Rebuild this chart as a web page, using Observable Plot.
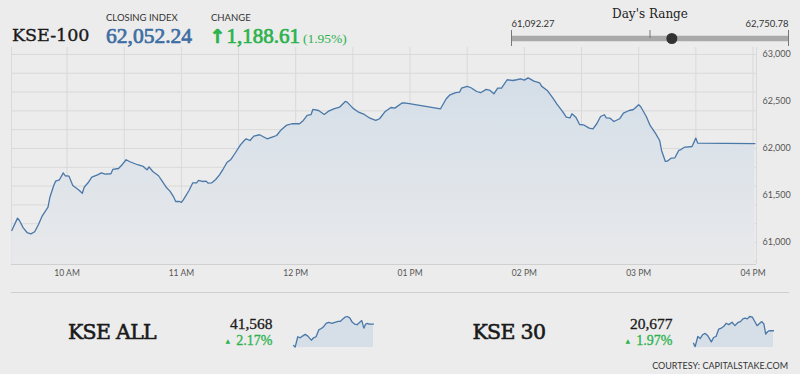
<!DOCTYPE html>
<html><head><meta charset="utf-8">
<script src="https://cdn.jsdelivr.net/npm/d3@7"></script>
<script src="https://cdn.jsdelivr.net/npm/@observablehq/plot@0.6"></script>
<style>
html,body{margin:0;padding:0;background:#ececec;}
#page{position:relative;width:800px;height:374px;overflow:hidden;background:#ececec;}
#page svg{position:absolute;left:0;top:0;}
</style></head><body>
<svg width="0" height="0" style="position:absolute">
  <defs>
    <linearGradient id="kseGrad" x1="0" y1="0" x2="0" y2="1">
      <stop offset="0" stop-color="#d4dee8"/>
      <stop offset="1" stop-color="#e8e9eb"/>
    </linearGradient>
  </defs>
</svg>
<div id="page"></div>
<script>
// ---- header values ----
const indexName = "KSE-100";
const closingIndex = 62052.24;
const change = 1188.61;
const changePct = 1.95;
const dayLow = 61092.27;
const dayHigh = 62750.78;

// ---- KSE-100 intraday series ----
const times = ["09:31","09:34","09:35","09:37","09:39","09:41","09:43","09:45","09:47","09:50","09:51","09:53","09:54","09:56","09:58","09:59",
"10:01","10:03","10:06","10:08","10:09","10:11","10:13","10:16","10:18","10:20","10:23","10:24","10:27","10:29","10:31","10:33","10:37","10:40","10:41","10:42","10:43","10:45","10:48","10:50","10:52","10:54","10:56","10:57","10:59",
"11:00","11:01","11:04","11:06","11:08","11:09","11:11","11:13","11:14","11:16","11:18","11:20","11:22","11:24","11:26","11:28","11:31","11:33","11:34","11:36","11:38","11:41","11:45","11:48","11:50","11:52","11:55","11:58",
"12:02","12:04","12:06","12:08","12:09","12:12","12:15","12:17","12:20","12:23","12:26","12:27","12:30","12:33","12:36","12:39","12:42","12:44","12:47","12:50","12:52","12:56","12:58",
"13:16","13:19","13:21","13:24","13:26","13:27","13:30","13:32","13:35","13:37","13:40","13:42","13:44","13:46","13:48","13:51","13:54","13:56","13:58",
"14:00","14:02","14:05","14:08","14:09","14:12","14:15","14:17","14:20","14:22","14:24","14:25","14:27","14:29","14:31","14:34","14:36","14:38","14:40","14:42","14:43","14:45","14:47","14:50","14:52","14:55","14:57","14:58",
"15:00","15:01","15:04","15:06","15:09","15:11","15:12","15:14","15:15","15:17","15:19","15:21","15:22","15:24","15:25","15:28","15:30","15:31","16:01"];
const values = [61128,61259,61234,61156,61106,61092,61114,61191,61284,61376,61482,61606,61652,61667,61741,61710,
61706,61606,61560,61524,61588,61635,61695,61720,61741,61727,61731,61777,61787,61830,61880,61859,61827,61809,61790,61773,61805,61755,61710,61649,61588,61546,61482,61436,61436,
61426,61454,61553,61635,61635,61660,61649,61652,61631,61635,61670,61720,61784,61854,61883,61944,62039,62085,62103,62085,62131,62146,62103,62124,62138,62191,62245,62263,
62263,62298,62351,62359,62415,62404,62362,62394,62422,62439,62500,62493,62429,62386,62362,62322,62298,62316,62394,62436,62429,62486,62482,
62422,62529,62571,62593,62599,62641,62660,62646,62606,62593,62628,62617,62582,62641,62641,62731,62723,62731,62741,
62727,62751,62716,62699,62663,62617,62535,62475,62394,62333,62326,62369,62333,62255,62252,62216,62209,62263,62340,62359,62326,62322,62287,62316,62376,62404,62412,62429,
62465,62447,62340,62245,62156,62085,61979,61862,61865,61897,61901,61979,61986,62014,62014,62021,62110,62056,62052];

// ---- sub-indices ----
const subNames = ["KSE ALL", "KSE 30"];
const subValues = [41568, 20677];
const subPct = [2.17, 1.97];
const sparkTimes = ["09:31","09:39","09:52","10:04","10:15","10:28","10:41","10:58","11:09","11:21","11:34","11:47","11:59","12:10","12:23","12:39","12:53","13:09","13:20","13:32","13:42","13:53","14:05","14:18","14:29","14:41","14:54","15:04","15:14","15:23","15:32","15:40","16:01"];
const kseAllSpark = [40824,40764,41124,41088,41148,41208,41148,41004,41088,41124,41364,41412,41484,41592,41628,41592,41628,41664,41664,41748,41808,41832,41784,41628,41568,41544,41628,41688,41424,41568,41592,41568,41568];
const kse30Spark = [20455,20395,20575,20539,20605,20629,20587,20479,20557,20575,20707,20725,20755,20809,20785,20827,20767,20827,20839,20887,20899,20887,20929,20917,20845,20767,20809,20839,20797,20617,20659,20677,20677];

// ---- axis ticks ----
const yTicks = [61000, 61500, 62000, 62500, 63000];
const yGrid = d3.range(60800, 63001, 200);
const xTickTimes = ["10:00","11:00","12:00","13:00","14:00","15:00","16:00"];
const xGridTimes = ["10:00","10:30","11:00","11:30","12:00","12:30","13:00","13:30","14:00","14:30","15:00","15:30","16:00"];

const parse = s => { const [h, m, sec] = s.split(":").map(Number); return new Date(Date.UTC(2021, 0, 4, h, m, sec || 0)); };
const page = document.getElementById("page");
const lineColor = "#4a78a8";
const green = "#2bb24c";
const gridColor = "#d9d9d9";

const main = times.map((t, i) => ({t: parse(t), v: values[i]}));
const yMin = 60766, yMax = 63074;
const xStart = parse("09:30:50"), xEnd = parse("16:01:50");

const chart = Plot.plot({
  width: 800, height: 290,
  marginLeft: 11, marginRight: 44, marginTop: 47, marginBottom: 26,
  style: {background: "transparent", fontFamily: "Lato, sans-serif", fontSize: "9px", color: "#555", overflow: "visible"},
  x: {type: "utc", domain: [xStart, xEnd]},
  y: {domain: [yMin, yMax]},
  marks: [
    Plot.ruleY(yGrid, {stroke: gridColor, strokeWidth: 1}),
    Plot.ruleX(xGridTimes.map(parse), {stroke: gridColor, strokeWidth: 1}),
    Plot.ruleX([xStart, xEnd], {stroke: gridColor, strokeWidth: 1}),
    Plot.areaY(main, {x: "t", y1: () => yMin, y2: "v", fill: "url(#kseGrad)", curve: "linear"}),
    Plot.lineY(main, {x: "t", y: "v", stroke: lineColor, strokeWidth: 1.3}),
    Plot.ruleY([yMin], {stroke: "#d0d0d0", strokeWidth: 1}),
    Plot.axisX({ticks: xTickTimes.map(parse), tickFormat: d3.utcFormat("%I %p"), tickSize: 0, tickPadding: 5, fontSize: 8.5, label: null}),
    Plot.axisY({anchor: "right", ticks: yTicks, tickFormat: d3.format(","), tickSize: 0, tickPadding: 6, label: null})
  ]
});
page.appendChild(chart);

// ---- Day's range ----
const range = Plot.plot({
  width: 800, height: 50,
  marginLeft: 511, marginRight: 12, marginTop: 30, marginBottom: 4,
  style: {background: "transparent", overflow: "visible"},
  x: {domain: [dayLow, dayHigh], axis: null},
  y: {domain: [-1, 1], axis: null},
  marks: [
    Plot.ruleY([{lo: dayLow, hi: dayHigh}], {y: () => 0, x1: "lo", x2: "hi", stroke: "#a9a9a9", strokeWidth: 5.5}),
    Plot.ruleX([dayLow, dayHigh], {x: d => d, y1: () => -1, y2: () => 1, stroke: "#777", strokeWidth: 1}),
    Plot.ruleX([(dayLow + dayHigh) / 2], {x: d => d, y1: () => 0, y2: () => 1, stroke: "#777", strokeWidth: 1}),
    Plot.dot([closingIndex], {x: d => d, y: () => 0, r: 5.5, fill: "#333", stroke: "none"}),
    Plot.text([dayLow], {x: d => d, y: () => 1, text: d => d3.format(",.2f")(d), textAnchor: "start", lineAnchor: "bottom", dy: -4, fontSize: 9.5, fontFamily: "Lato, sans-serif", fill: "#333"}),
    Plot.text([dayHigh], {x: d => d, y: () => 1, text: d => d3.format(",.2f")(d), textAnchor: "end", lineAnchor: "bottom", dy: -4, fontSize: 9.5, fontFamily: "Lato, sans-serif", fill: "#333"}),
    Plot.text(["Day's Range"], {x: () => (dayLow + dayHigh) / 2, y: () => 1, text: d => d, lineAnchor: "bottom", dy: -13, fontSize: 12, fontFamily: "DejaVu Serif, serif", fill: "#222"})
  ]
});
page.appendChild(range);

// ---- sparklines ----
function spark(vals, left) {
  const data = sparkTimes.map((t, i) => ({t: parse(t), v: vals[i]}));
  const lo = d3.min(vals) - 15, hi = d3.max(vals);
  const p = Plot.plot({
    width: 80, height: 33, margin: 0, marginTop: 1, marginBottom: 1,
    style: {background: "transparent", overflow: "visible"},
    x: {type: "utc", domain: [parse("09:31"), parse("16:01")], axis: null},
    y: {domain: [lo, hi], axis: null},
    marks: [
      Plot.areaY(data, {x: "t", y1: () => lo, y2: "v", fill: "#d6dee7"}),
      Plot.lineY(data, {x: "t", y: "v", stroke: lineColor, strokeWidth: 1.3})
    ]
  });
  p.style.left = left + "px";
  p.style.top = "315px";
  page.appendChild(p);
}
spark(kseAllSpark, 293);
spark(kse30Spark, 693);

// ---- text overlay ----
const ov = d3.select(page).append("svg").attr("width", 800).attr("height", 374).style("pointer-events", "none");
function txt(x, y, s, o) {
  const t = ov.append("text").attr("x", x).attr("y", y).text(s);
  for (const k in o) t.style(k, o[k]);
  return t;
}
const lato = "Lato, sans-serif";
const bold = (c, w) => ({stroke: c, "stroke-width": w + "px", "paint-order": "stroke"});
txt(12, 41, indexName, {"font-family": "DejaVu Serif, serif", "font-size": "17.5px", fill: "#1a1a1a", ...bold("#1a1a1a", 0.4)});
txt(106, 20.5, "CLOSING INDEX", {"font-family": lato, "font-size": "9.5px", fill: "#333"});
txt(106, 42.5, d3.format(",.2f")(closingIndex), {"font-family": "Liberation Serif, serif", "font-size": "21.5px", fill: "#3d6ea3", ...bold("#3d6ea3", 0.7)});
txt(211, 20.5, "CHANGE", {"font-family": lato, "font-size": "9.5px", fill: "#333"});
txt(209.5, 42.5, "↑", {"font-family": "DejaVu Sans, sans-serif", "font-size": "19px", "font-weight": "bold", fill: green, ...bold(green, 0.6)});
txt(226.5, 42.5, d3.format(",.2f")(change), {"font-family": "Liberation Serif, serif", "font-size": "21px", fill: green, ...bold(green, 0.7)});
txt(303, 42.5, "(" + changePct.toFixed(2) + "%)", {"font-family": "Liberation Serif, serif", "font-size": "13.5px", fill: green});

ov.append("line").attr("x1", 11).attr("x2", 789).attr("y1", 292.5).attr("y2", 292.5).attr("stroke", "#cfcfcf");

const nameX = [68, 472.5], numX = [272.5, 672.5];
subNames.forEach((n, i) => {
  txt(nameX[i], 338.5, n, {"font-family": "DejaVu Serif, serif", "font-size": "20.5px", "letter-spacing": "-0.7px", fill: "#1a1a1a", ...bold("#1a1a1a", 0.6)});
  txt(numX[i], 328.5, d3.format(",")(subValues[i]), {"font-family": "Liberation Serif, serif", "font-size": "15.5px", fill: "#1a1a1a", "text-anchor": "end", ...bold("#1a1a1a", 0.3)});
  txt(numX[i], 344.5, subPct[i].toFixed(2) + "%", {"font-family": "Liberation Serif, serif", "font-size": "14px", fill: green, "text-anchor": "end", ...bold(green, 0.3)});
  txt(numX[i] - 47, 342.5, "▲", {"font-family": "DejaVu Sans, sans-serif", "font-size": "6px", fill: green});
});
txt(788, 368.5, "COURTESY: CAPITALSTAKE.COM", {"font-family": lato, "font-size": "9px", fill: "#333", "text-anchor": "end"});
</script>
</body></html>
